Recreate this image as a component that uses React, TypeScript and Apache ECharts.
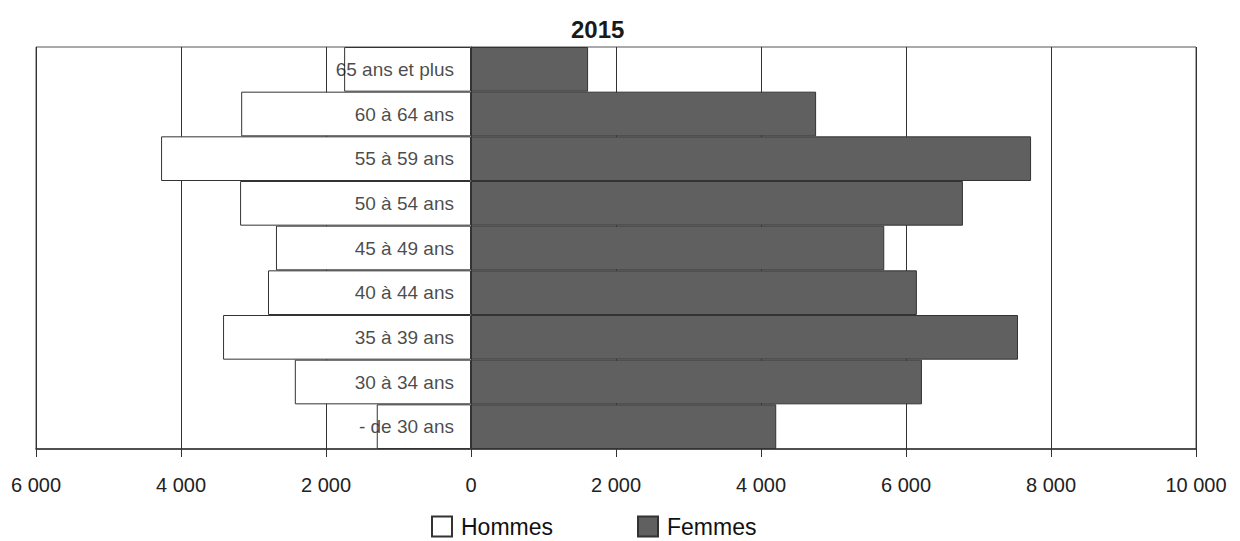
import React, { useEffect, useRef } from "react";
import * as echarts from "echarts";

const categories = [
  "- de 30 ans",
  "30 à 34 ans",
  "35 à 39 ans",
  "40 à 44 ans",
  "45 à 49 ans",
  "50 à 54 ans",
  "55 à 59 ans",
  "60 à 64 ans",
  "65 ans et plus",
];
const hommes = [1300, 2430, 3420, 2800, 2690, 3185, 4275, 3170, 1750];
const femmes = [4210, 6220, 7545, 6150, 5700, 6785, 7725, 4760, 1615];
const titleText = "2015";
const xMin = -6000;
const xMax = 10000;
const xInterval = 2000;

const FONT = "'Liberation Sans Narrow', 'Arial Narrow', 'Liberation Sans', Arial, sans-serif";

const fmt = (v: number) => {
  const a = Math.abs(v);
  return String(a).replace(/\B(?=(\d{3})+(?!\d))/g, " ");
};

export default function App() {
  const ref = useRef<HTMLDivElement>(null);
  useEffect(() => {
    if (!ref.current) return;
    const chart = echarts.init(ref.current, null, { renderer: "svg" });
    chart.setOption({
      animation: false,
      backgroundColor: "#ffffff",
      title: {
        text: titleText,
        left: 566,
        top: 12,
        textStyle: { fontFamily: FONT, fontWeight: "bold", fontSize: 24, color: "#1a1a1a" },
      },
      legend: {
        data: ["Hommes", "Femmes"],
        left: 431,
        top: 515,
        padding: 0,
        itemWidth: 20,
        itemHeight: 20,
        itemGap: 84,
        icon: "rect",
        textStyle: {
          fontFamily: FONT,
          fontSize: 23,
          color: "#111",
          padding: [0, 0, 0, 4],
        },
      },
      grid: {
        left: 36,
        right: 44,
        top: 47,
        bottom: 92,
        show: true,
        borderColor: "#555",
        borderWidth: 1,
        containLabel: false,
        outerBoundsMode: "none",
      },
      xAxis: {
        type: "value",
        min: xMin,
        max: xMax,
        interval: xInterval,
        axisLine: { show: true, lineStyle: { color: "#333", width: 1.5 } },
        axisTick: { show: true, length: 8, lineStyle: { color: "#333" } },
        splitLine: { show: true, lineStyle: { color: "#333", width: 1 } },
        axisLabel: {
          formatter: (v: number) => fmt(v),
          fontFamily: FONT,
          fontSize: 20,
          color: "#222",
          margin: 26,
          showMinLabel: true,
          showMaxLabel: true,
        },
      },
      yAxis: {
        type: "category",
        data: categories,
        axisLine: { show: true, onZero: true, lineStyle: { color: "#333", width: 1 } },
        axisTick: { show: false },
        axisLabel: { show: false },
        z: 10,
      },
      series: [
        {
          name: "Hommes",
          type: "bar",
          data: hommes.map((v) => -v),
          barGap: "-100%",
          barCategoryGap: 0,
          itemStyle: { color: "#ffffff", borderColor: "#333", borderWidth: 1 },
        },
        {
          name: "Femmes",
          type: "bar",
          data: femmes,
          barGap: "-100%",
          barCategoryGap: 0,
          itemStyle: { color: "#606060", borderColor: "#333", borderWidth: 1 },
        },
        {
          name: "labels",
          type: "scatter",
          data: categories.map((c) => [0, c]),
          symbolSize: 0,
          silent: true,
          z: 20,
          label: {
            show: true,
            position: "left",
            distance: 17,
            formatter: (p: any) => categories[p.dataIndex],
            fontFamily: FONT,
            fontSize: 19,
            color: "#1a1a1a",
          },
        },
      ],
    });
    return () => chart.dispose();
  }, []);
  return (
    <div
      ref={ref}
      style={{ position: "fixed", left: 0, top: 0, width: 1240, height: 541 }}
    />
  );
}
